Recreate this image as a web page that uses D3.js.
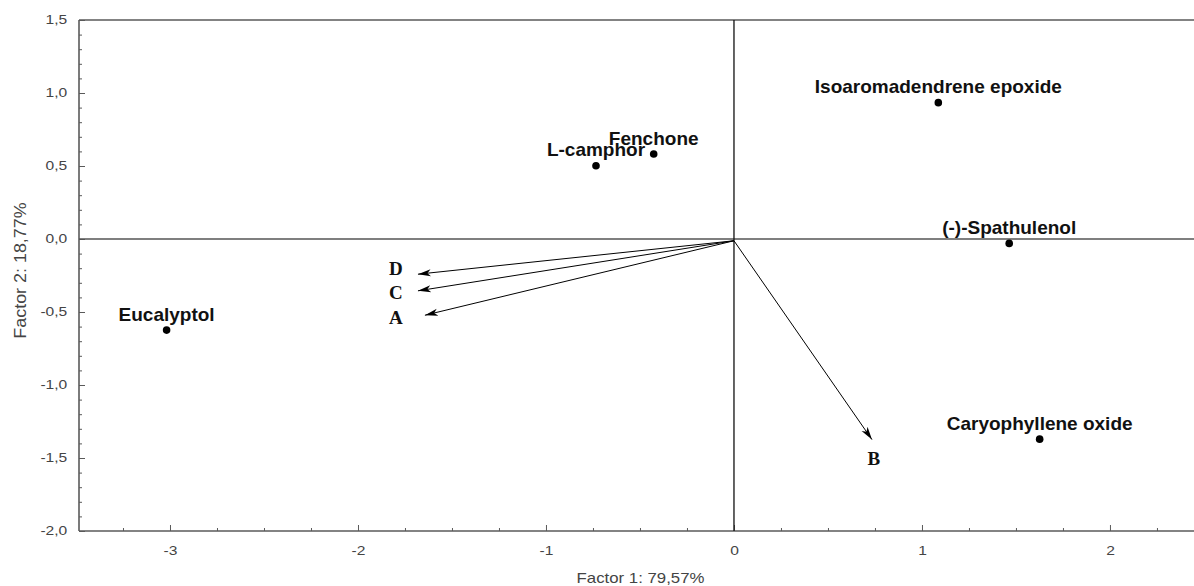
<!DOCTYPE html>
<html>
<head>
<meta charset="utf-8">
<script src="https://cdn.jsdelivr.net/npm/d3@7"></script>
<style>
  body { margin: 0; background: #fff; }
  svg { display: block; }
</style>
</head>
<body>
<script>
var width = 1194,
    height = 586;
var margin = {top: 20, right: 0, bottom: 55, left: 79};

// compound scores
var compoundNames = ["Isoaromadendrene epoxide", "Fenchone", "L-camphor", "(-)-Spathulenol", "Eucalyptol", "Caryophyllene oxide"];
var compoundX = [1.087, -0.427, -0.734, 1.464, -3.018, 1.626];
var compoundY = [0.934, 0.582, 0.502, -0.030, -0.624, -1.371];

// variable vectors
var vectorNames = ["D", "C", "A", "B"];
var vectorX = [-1.681, -1.681, -1.644, 0.734];
var vectorY = [-0.241, -0.355, -0.522, -1.374];
var vectorOrigin = [0, -0.012];

// axes
var xDomain = [-3.484, 2.447];
var yDomain = [-2.0, 1.5];
var xTicks = [-3, -2, -1, 0, 1, 2];
var yTicks = [-2.0, -1.5, -1.0, -0.5, 0.0, 0.5, 1.0, 1.5];
var xTitle = "Factor 1: 79,57%";
var yTitle = "Factor 2: 18,77%";

var sansFont = '"Liberation Sans", Arial, sans-serif';
var serifFont = '"Liberation Serif", "Times New Roman", serif';
var axisColor = "#5a5a5a";
var stretch = 1.3; // tick labels look horizontally stretched in the original

var locale = d3.formatLocale({decimal: ",", thousands: ".", grouping: [3], currency: ["", ""], minus: "-"});
var fmtY = locale.format(".1f"),
    fmtX = locale.format("d");

var x = d3.scaleLinear().domain(xDomain).range([margin.left, width - margin.right]);
var y = d3.scaleLinear().domain(yDomain).range([height - margin.bottom, margin.top]);

var minorX = d3.range(-14, 10).map(function (i) { return i * 0.25; })
    .filter(function (v) { return v >= xDomain[0] && v <= xDomain[1] && xTicks.indexOf(v) < 0; });
var minorY = d3.range(-20, 16).map(function (i) { return i / 10; })
    .filter(function (v) { return yTicks.indexOf(v) < 0; });

var svg = d3.select("body").append("svg")
    .attr("width", width)
    .attr("height", height);

var defs = svg.append("defs");
defs.append("marker")
    .attr("id", "arrow")
    .attr("viewBox", "0 -5 14 10")
    .attr("refX", 13)
    .attr("refY", 0)
    .attr("markerWidth", 14)
    .attr("markerHeight", 10)
    .attr("markerUnits", "userSpaceOnUse")
    .attr("orient", "auto")
    .append("path")
    .attr("d", "M0,-3.6L13,0L0,3.6L3.5,0Z")
    .attr("fill", "#000");

// minor + major ticks (pointing inward)
var yBottom = y(yDomain[0]);
var gxMinor = svg.append("g")
    .attr("transform", "translate(0," + yBottom + ")")
    .call(d3.axisBottom(x).tickValues(minorX).tickSize(-3).tickFormat(""));
var gx = svg.append("g")
    .attr("transform", "translate(0," + yBottom + ")")
    .call(d3.axisBottom(x).tickValues(xTicks).tickSize(-6).tickPadding(15).tickFormat(fmtX));
var gyMinor = svg.append("g")
    .attr("transform", "translate(" + margin.left + ",0)")
    .call(d3.axisLeft(y).tickValues(minorY).tickSize(-3).tickFormat(""));
var gy = svg.append("g")
    .attr("transform", "translate(" + margin.left + ",0)")
    .call(d3.axisLeft(y).tickValues(yTicks).tickSize(-6).tickPadding(9).tickFormat(fmtY));

[gxMinor, gx, gyMinor, gy].forEach(function (g) {
    g.select(".domain").remove();
    g.selectAll("line").attr("stroke", axisColor).attr("stroke-width", 1);
    g.selectAll("text")
        .attr("fill", "#444")
        .style("font-family", sansFont)
        .style("font-size", "12px")
        .attr("transform", "scale(" + stretch + ",1)");
});

// frame
var frame = svg.append("g")
    .attr("stroke", axisColor)
    .attr("stroke-width", 1.6)
    .attr("fill", "none");
frame.append("line")
    .attr("x1", x(xDomain[0])).attr("x2", x(xDomain[1]))
    .attr("y1", y(yDomain[1])).attr("y2", y(yDomain[1]));
frame.append("line")
    .attr("x1", x(xDomain[0])).attr("x2", x(xDomain[1]))
    .attr("y1", y(yDomain[0])).attr("y2", y(yDomain[0]));
frame.append("line")
    .attr("x1", x(xDomain[0])).attr("x2", x(xDomain[0]))
    .attr("y1", y(yDomain[0])).attr("y2", y(yDomain[1]));

// zero lines
svg.append("line")
    .attr("x1", x(xDomain[0])).attr("x2", x(xDomain[1]))
    .attr("y1", y(0)).attr("y2", y(0))
    .attr("stroke", "#555")
    .attr("stroke-width", 1.5);
svg.append("line")
    .attr("x1", x(0)).attr("x2", x(0))
    .attr("y1", y(yDomain[0])).attr("y2", y(yDomain[1]))
    .attr("stroke", "#111")
    .attr("stroke-width", 1.3);

// axis titles
svg.append("text")
    .attr("transform", "translate(" + ((x.range()[0] + x.range()[1]) / 2 + 4) + "," + (height - 3) + ") scale(1.2,1)")
    .attr("text-anchor", "middle")
    .attr("fill", "#444")
    .style("font-family", sansFont)
    .style("font-size", "14px")
    .text(xTitle);
svg.append("text")
    .attr("transform", "translate(26," + ((y.range()[0] + y.range()[1]) / 2 - 5) + ") rotate(-90) scale(1.12,1)")
    .attr("text-anchor", "middle")
    .attr("fill", "#444")
    .style("font-family", sansFont)
    .style("font-size", "16px")
    .text(yTitle);

// vectors
var vectors = vectorNames.map(function (n, i) {
    return {name: n, x: vectorX[i], y: vectorY[i]};
});
svg.append("g").selectAll("line")
    .data(vectors)
    .join("line")
    .attr("x1", x(vectorOrigin[0]))
    .attr("y1", y(vectorOrigin[1]))
    .attr("x2", function (d) { return x(d.x); })
    .attr("y2", function (d) { return y(d.y); })
    .attr("stroke", "#000")
    .attr("stroke-width", 1)
    .attr("marker-end", "url(#arrow)");

// label placement: left-pointing vectors get a shared column left of the tips,
// stacked with a minimum gap; others go below the tip
var leftVecs = vectors.filter(function (d) { return d.x < 0; });
var leftColX = d3.min(leftVecs, function (d) { return x(d.x); }) - 22;
leftVecs.forEach(function (d) { d.ly = y(d.y) + 2; });
leftVecs.sort(function (a, b) { return b.ly - a.ly; });
for (var i = 1; i < leftVecs.length; i++) {
    leftVecs[i].ly = Math.min(leftVecs[i].ly, leftVecs[i - 1].ly - 24);
}
vectors.forEach(function (d) {
    if (d.x < 0) {
        d.lx = leftColX;
    } else {
        d.lx = x(d.x) + 2;
        d.ly = y(d.y) + 19;
    }
});
svg.append("g").selectAll("text")
    .data(vectors)
    .join("text")
    .attr("x", function (d) { return d.lx; })
    .attr("y", function (d) { return d.ly + 6.3; })
    .attr("text-anchor", "middle")
    .style("font-family", serifFont)
    .style("font-weight", "bold")
    .style("font-size", "19px")
    .attr("fill", "#111")
    .text(function (d) { return d.name; });

// compounds
var compounds = compoundNames.map(function (n, i) {
    return {name: n, x: compoundX[i], y: compoundY[i]};
});
svg.append("g").selectAll("circle")
    .data(compounds)
    .join("circle")
    .attr("cx", function (d) { return x(d.x); })
    .attr("cy", function (d) { return y(d.y); })
    .attr("r", 3.8)
    .attr("fill", "#000");
svg.append("g").selectAll("text")
    .data(compounds)
    .join("text")
    .attr("x", function (d) { return x(d.x); })
    .attr("y", function (d) { return y(d.y) - 9.5; })
    .attr("text-anchor", "middle")
    .style("font-family", sansFont)
    .style("font-weight", "bold")
    .style("font-size", "19px")
    .attr("fill", "#111")
    .text(function (d) { return d.name; });
</script>
</body>
</html>
